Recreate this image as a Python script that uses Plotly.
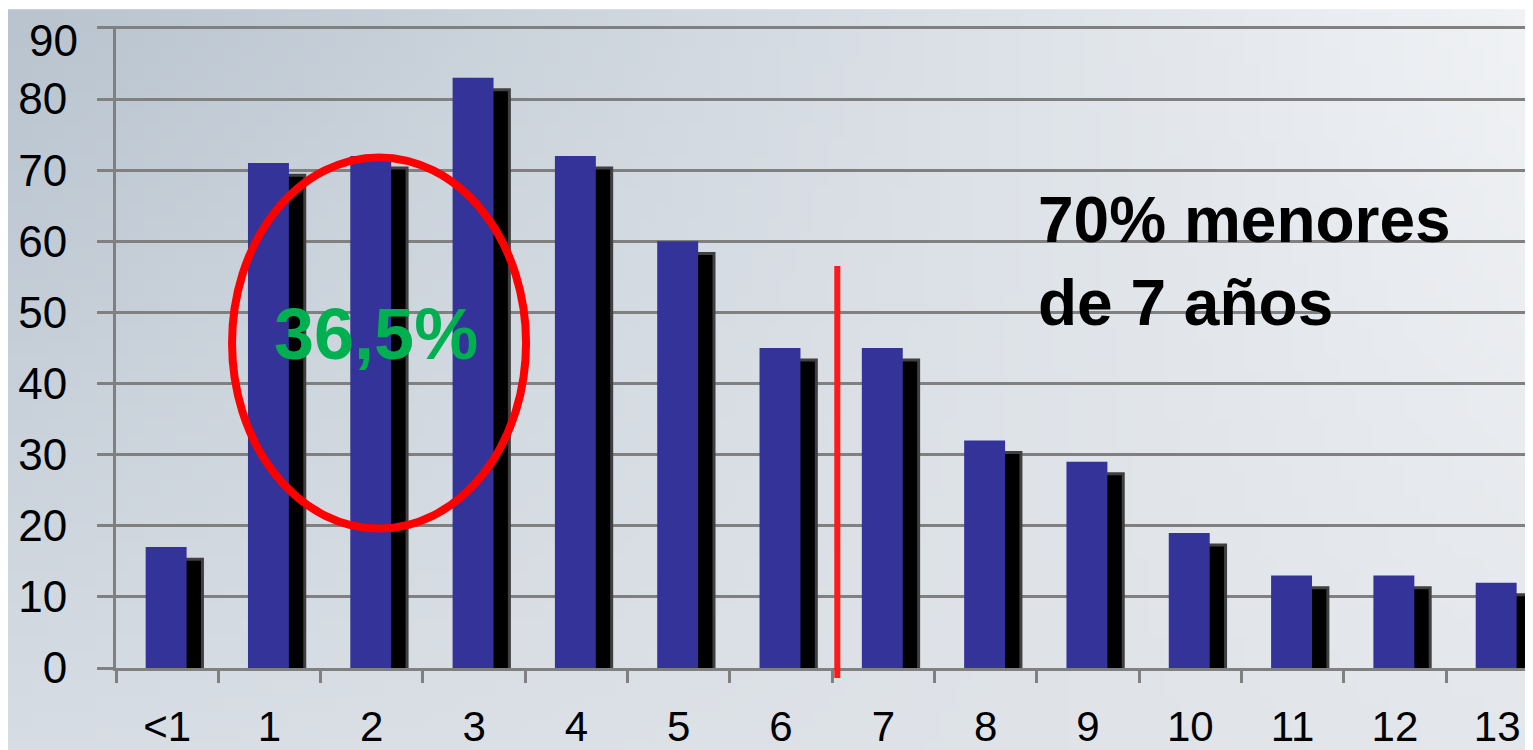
import base64, struct, zlib
import numpy as np
import plotly.graph_objects as go

# ---- data ----
categories = ["<1", "1", "2", "3", "4", "5", "6", "7", "8", "9", "10", "11", "12", "13"]
values = [17, 71, 72, 83, 72, 60, 45, 45, 32, 29, 19, 13, 13, 12]
y_ticks = [0, 10, 20, 30, 40, 50, 60, 70, 80, 90]
note_text = "70% menores<br>de 7 años"
circle_text = "36,5%"

W, H = 1533, 750
OFF = 8      # page body margin
EXTRA = 2    # px of headroom above the 90 gridline
ML, MR, MT, MB = 116 - OFF, OFF, 27 - OFF - EXTRA, 750 - 675 + OFF
PW, PH = W - ML - MR, H - MT - MB
Y_TOP = 90 * PH / (PH - EXTRA)
TOP_LABEL_PX = 675 - 40          # the top label is kept inside the page
Y2_TOP = y_ticks[-1] * PH / TOP_LABEL_PX

# ---- background gradient image (PNG built by hand) ----
def png_data_uri(arr):
    h, w, _ = arr.shape
    raw = b"".join(b"\x00" + arr[r].tobytes() for r in range(h))
    def chunk(tag, data):
        c = struct.pack(">I", len(data)) + tag + data
        return c + struct.pack(">I", zlib.crc32(tag + data) & 0xffffffff)
    png = b"\x89PNG\r\n\x1a\n" + chunk(b"IHDR", struct.pack(">IIBBBBB", w, h, 8, 2, 0, 0, 0))
    png += chunk(b"IDAT", zlib.compress(raw, 9)) + chunk(b"IEND", b"")
    return "data:image/png;base64," + base64.b64encode(png).decode()

gw, gh = 96, 48
u = np.linspace(0, 1, gw)[None, :, None]
v = np.linspace(0, 1, gh)[:, None, None]
TL = np.array([0xb9, 0xc4, 0xcf]); TR = np.array([0xf1, 0xf3, 0xf6])
BL = np.array([0xd7, 0xdd, 0xe4]); BR = np.array([0xe4, 0xe7, 0xeb])
img = TL * (1 - u) * (1 - v) + TR * u * (1 - v) + BL * (1 - u) * v + BR * u * v
img = np.clip(img, 0, 255).astype(np.uint8)
bg_uri = png_data_uri(img)

FONT = "Liberation Sans, Arial, sans-serif"
GRID = "#808080"

fig = go.Figure()
# drop shadow of bars
fig.add_trace(go.Bar(
    x=categories, y=values, base=-1.7, offset=-0.055, width=0.40,
    marker=dict(color="#000000", line=dict(color="#404040", width=3)),
    hoverinfo="skip", showlegend=False,
))
# main bars
fig.add_trace(go.Bar(
    x=categories, y=values, offset=-0.21, width=0.40,
    marker=dict(color="#333399", line=dict(width=0)),
    showlegend=False,
))
# invisible helper trace so the top-label axis is drawn
fig.add_trace(go.Scatter(
    x=categories, y=values, yaxis="y2", mode="markers",
    marker=dict(opacity=0, size=1), hoverinfo="skip", showlegend=False,
))

# red ellipse around 1-3
fig.add_shape(type="circle", xref="x", yref="y", x0=0.634, x1=3.508, y0=19.6, y1=71.8,
              line=dict(color="#ff0000", width=8), layer="above")
# red separator line between 6 and 7
fig.add_shape(type="line", xref="x", yref="paper", x0=6.55, x1=6.55,
              y0=-10 / PH, y1=(675 - 268) / PH,
              line=dict(color="#ff1a1a", width=6), layer="above")

fig.add_annotation(x=2.04, y=46.9, xref="x", yref="y", text=f"<b>{circle_text}</b>",
                   showarrow=False, font=dict(family=FONT, size=72, color="#00b050"))
fig.add_annotation(x=8.49, y=57.1, xref="x", yref="y", text=f"<b>{note_text}</b>",
                   showarrow=False, xanchor="left", align="left",
                   font=dict(family=FONT, size=64, color="#000000"))

fig.add_layout_image(dict(
    source=bg_uri, xref="paper", yref="paper",
    x=-ML / PW, y=1 + MT / PH, sizex=W / PW, sizey=H / PH,
    xanchor="left", yanchor="top", sizing="stretch", layer="below",
))

main_ticktext = [str(t) for t in y_ticks[:-1]] + [""]

fig.update_layout(
    width=W, height=H,
    margin=dict(l=ML, r=MR, t=MT, b=MB, pad=0),
    barmode="overlay",
    paper_bgcolor="rgba(0,0,0,0)", plot_bgcolor="rgba(0,0,0,0)",
    font=dict(family=FONT, color="#000000"),
    xaxis=dict(
        type="category", range=[-0.5, 13.35], tickson="boundaries",
        ticks="outside", ticklen=12, tickwidth=3, tickcolor=GRID,
        showline=True, linecolor=GRID, linewidth=3, showgrid=False,
        tickfont=dict(size=42, family=FONT), ticklabelstandoff=20,
    ),
    yaxis=dict(
        range=[0, Y_TOP], tickvals=y_ticks, ticktext=main_ticktext,
        ticks="outside", ticklen=16, tickwidth=3,
        tickcolor=GRID, showline=True, linecolor=GRID, linewidth=3,
        showgrid=True, gridcolor=GRID, gridwidth=3, zeroline=False,
        tickfont=dict(size=44, family=FONT), ticklabelstandoff=21,
    ),
    yaxis2=dict(
        overlaying="y", side="left", anchor="x",
        range=[0, Y2_TOP], tickvals=[y_ticks[-1]], ticks="",
        showline=False, showgrid=False, zeroline=False,
        tickfont=dict(size=44, family=FONT), ticklabelstandoff=37,
    ),
)

fig.write_html("out.html")
